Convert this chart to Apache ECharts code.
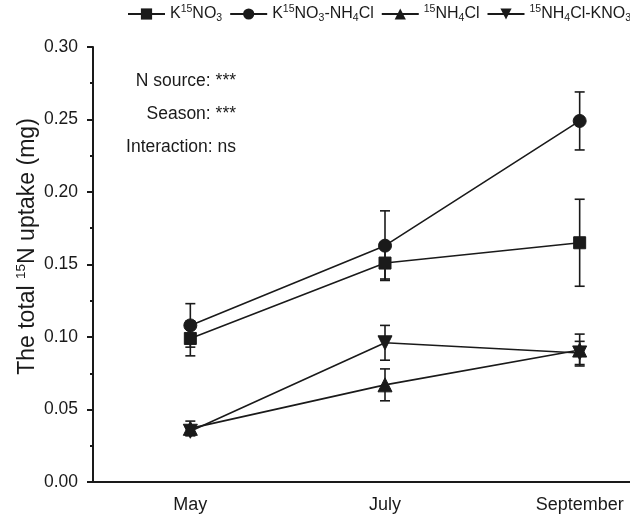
<!DOCTYPE html>
<html>
<head>
<meta charset="utf-8">
<script src="https://cdn.jsdelivr.net/npm/echarts@6/dist/echarts.min.js"></script>
<style>
  html, body { margin: 0; padding: 0; background: #fff; overflow: hidden; width: 630px; height: 515px; }
  /* the original plot is cut off at the right edge, so the canvas is wider than the window */
  #chart { width: 677px; height: 515px; }
</style>
</head>
<body>
<div id="chart"></div>
<script>
'use strict';

const months = ['May', 'July', 'September'];

// means and standard errors
const kno3 = [0.099, 0.151, 0.165];
const kno3Err = [0.012, 0.011, 0.030];
const kno3Nh4 = [0.108, 0.163, 0.249];
const kno3Nh4Err = [0.015, 0.024, 0.020];
const nh4 = [0.037, 0.067, 0.091];
const nh4Err = [0.005, 0.011, 0.011];
const nh4Kno3 = [0.035, 0.096, 0.089];
const nh4Kno3Err = [0.003, 0.012, 0.008];

const yTicks = [0, 0.05, 0.10, 0.15, 0.20, 0.25, 0.30];
const notes = ['N source: ***', 'Season: ***', 'Interaction: ns'];

const ink = '#1a1a1a';
const font = '"Liberation Sans", Arial, sans-serif';

const legendLabels = {
    'KNO3': '{b|K}{sup|15}{b|NO}{sub|3}',
    'KNO3-NH4Cl': '{b|K}{sup|15}{b|NO}{sub|3}{b|-NH}{sub|4}{b|Cl}',
    'NH4Cl': '{sup|15}{b|NH}{sub|4}{b|Cl}',
    'NH4Cl-KNO3': '{sup|15}{b|NH}{sub|4}{b|Cl-KNO}{sub|3}'
};

const richText = {
    b: { fontSize: 16, lineHeight: 20, color: ink, fontFamily: font },
    sup: { fontSize: 10.5, lineHeight: 10, verticalAlign: 'top', color: ink, fontFamily: font },
    sub: { fontSize: 10.5, lineHeight: 10, verticalAlign: 'bottom', color: ink, fontFamily: font }
};

function errorSeries(means, errs) {
    return {
        type: 'custom',
        silent: true,
        z: 1,
        data: means.map((m, i) => [i, m - errs[i], m + errs[i]]),
        renderItem(params, api) {
            const lo = api.coord([api.value(0), api.value(1)]);
            const hi = api.coord([api.value(0), api.value(2)]);
            const w = 5;
            const style = { stroke: ink, lineWidth: 1.6 };
            return {
                type: 'group',
                children: [
                    { type: 'line', shape: { x1: hi[0], y1: hi[1], x2: lo[0], y2: lo[1] }, style },
                    { type: 'line', shape: { x1: hi[0] - w, y1: hi[1], x2: hi[0] + w, y2: hi[1] }, style },
                    { type: 'line', shape: { x1: lo[0] - w, y1: lo[1], x2: lo[0] + w, y2: lo[1] }, style }
                ]
            };
        }
    };
}

function lineSeries(name, data, symbol, size, rotate) {
    return {
        name,
        type: 'line',
        data,
        symbol,
        symbolSize: size,
        symbolRotate: rotate || 0,
        z: 3,
        animation: false,
        lineStyle: { color: ink, width: 1.6 },
        itemStyle: { color: ink, borderColor: ink },
        emphasis: { disabled: true }
    };
}

const chart = echarts.init(document.getElementById('chart'), null, { renderer: 'canvas' });

chart.setOption({
    animation: false,
    backgroundColor: '#fff',
    grid: { left: 93, right: 0, top: 47, bottom: 33 },
    legend: {
        top: 4,
        left: 127,
        padding: 0,
        width: 560,
        itemWidth: 37,
        itemHeight: 14,
        itemGap: 7,
        symbolRotate: 'inherit',
        data: ['KNO3', 'KNO3-NH4Cl', 'NH4Cl', 'NH4Cl-KNO3'],
        formatter: name => legendLabels[name],
        textStyle: { rich: richText, color: ink, fontSize: 16, fontFamily: font }
    },
    xAxis: {
        type: 'category',
        data: months,
        boundaryGap: true,
        axisLine: { lineStyle: { color: ink, width: 2 } },
        axisTick: { alignWithLabel: true, length: 6, lineStyle: { color: ink, width: 2 } },
        axisLabel: { color: ink, fontSize: 18, fontFamily: font, margin: 14, interval: 0 },
        splitLine: { show: false }
    },
    yAxis: {
        type: 'value',
        min: 0,
        max: 0.30,
        interval: 0.05,
        name: '{b|The total }{sup|15}{b|N uptake (mg)}',
        nameLocation: 'middle',
        nameGap: 52,
        nameMoveOverlap: false,
        nameTextStyle: {
            padding: [0, 0, 0, 36],
            rich: {
                b: { fontSize: 23, lineHeight: 27, color: ink, fontFamily: font },
                sup: { fontSize: 13.5, lineHeight: 13, verticalAlign: 'top', color: ink, fontFamily: font }
            }
        },
        axisLine: { show: true, lineStyle: { color: ink, width: 2 } },
        axisTick: { show: true, length: 6, lineStyle: { color: ink, width: 2 } },
        minorTick: { show: true, splitNumber: 2, length: 3, lineStyle: { color: ink, width: 2 } },
        axisLabel: {
            color: ink, fontSize: 17.5, fontFamily: font, margin: 15,
            formatter: v => yTicks.some(t => Math.abs(t - v) < 1e-9) ? v.toFixed(2) : ''
        },
        splitLine: { show: false }
    },
    graphic: notes.map((t, i) => ({
        type: 'text',
        right: 677 - 236,
        top: 72 + i * 33,
        style: { text: t, fill: ink, fontSize: 17.5, fontFamily: font, textAlign: 'right' }
    })),
    series: [
        errorSeries(kno3, kno3Err),
        errorSeries(kno3Nh4, kno3Nh4Err),
        errorSeries(nh4, nh4Err),
        errorSeries(nh4Kno3, nh4Kno3Err),
        lineSeries('KNO3', kno3, 'rect', 12),
        lineSeries('KNO3-NH4Cl', kno3Nh4, 'circle', 13),
        lineSeries('NH4Cl', nh4, 'triangle', 14),
        lineSeries('NH4Cl-KNO3', nh4Kno3, 'triangle', 14, 180)
    ]
});
</script>
</body>
</html>
